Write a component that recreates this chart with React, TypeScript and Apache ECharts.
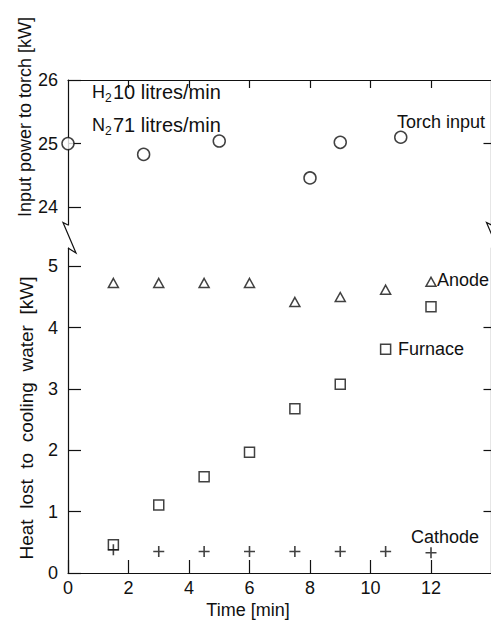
import React, { useEffect, useRef } from "react";
import * as echarts from "echarts";

// ---- data ----
const timeLabels = [0, 2, 4, 6, 8, 10, 12];
const timeTicksTop = [2, 4, 6, 8, 10, 12];
const powerTicks = [24, 25, 26];
const powerTicksRight = [25];
const heatTicks = [0, 1, 2, 3, 4, 5];
const heatTicksRight = [1, 2, 3, 4];

const torchTimes = [0, 2.5, 5, 8, 9, 11];
const torchPower = [25.0, 24.83, 25.04, 24.46, 25.02, 25.1];

const runTimes = [1.5, 3, 4.5, 6, 7.5, 9, 10.5, 12];
const anodeHeat = [4.73, 4.73, 4.73, 4.73, 4.42, 4.5, 4.62, 4.75];
const furnaceHeat = [0.46, 1.11, 1.57, 1.97, 2.68, 3.08, 3.65, 4.34];
const cathodeHeat = [0.38, 0.35, 0.35, 0.35, 0.35, 0.35, 0.35, 0.33];

const FONT = "Liberation Sans, Arial, Helvetica, sans-serif";
const INK = "#111";

const pair = (xs: number[], ys: number[]) => xs.map((x, i) => [x, ys[i]]);

export default function App() {
  const ref = useRef<HTMLDivElement>(null);

  useEffect(() => {
    document.body.style.margin = "0";
    const chart = echarts.init(ref.current!, null, { renderer: "svg" });

    const axisLine = { show: true, lineStyle: { color: INK, width: 1.2 } };
    const label = (vals: number[], margin: number) => ({
      show: true,
      customValues: vals,
      color: INK,
      fontSize: 18,
      fontFamily: FONT,
      margin,
    });
    const tick = (vals: number[], len: number) => ({
      show: true,
      inside: true,
      length: len,
      customValues: vals,
      lineStyle: { color: INK, width: 1.2 },
    });

    const markerStyle = { color: "#fff", borderColor: INK, borderWidth: 1.5 };
    const txt = (x: number, y: number, text: string, size: number, align = "left", rotation = 0) => ({
      type: "text",
      x,
      y,
      rotation,
      style: { text, font: `${size}px ${FONT}`, fill: INK, align, verticalAlign: "middle" },
    });

    chart.setOption({
      animation: false,
      backgroundColor: "#fff",
      grid: [
        { left: 68, top: 80, width: 423.5, height: 145, outerBoundsMode: "none" },
        { left: 68, top: 248, width: 423.5, height: 325, outerBoundsMode: "none" },
      ],
      xAxis: [
        {
          type: "value",
          gridIndex: 1,
          position: "bottom",
          min: 0,
          max: 14,
          interval: 2,
          axisLine,
          axisTick: tick(timeLabels, 13),
          axisLabel: label(timeLabels, 6),
          splitLine: { show: false },
        },
        {
          type: "value",
          gridIndex: 0,
          position: "top",
          min: 0,
          max: 14,
          interval: 2,
          axisLine,
          axisTick: tick(timeTicksTop, 8),
          axisLabel: { show: false },
          splitLine: { show: false },
        },
      ],
      yAxis: [
        {
          type: "value",
          gridIndex: 0,
          position: "left",
          min: 23.72,
          max: 26,
          axisLine,
          axisTick: tick(powerTicks, 13),
          axisLabel: label(powerTicks, 10),
          splitLine: { show: false },
        },
        {
          type: "value",
          gridIndex: 0,
          position: "right",
          min: 23.72,
          max: 26,
          axisLine,
          axisTick: tick(powerTicksRight, 8),
          axisLabel: { show: false },
          splitLine: { show: false },
        },
        {
          type: "value",
          gridIndex: 1,
          position: "left",
          min: 0,
          max: 5.3,
          axisLine,
          axisTick: tick(heatTicks, 13),
          axisLabel: label(heatTicks, 10),
          splitLine: { show: false },
        },
        {
          type: "value",
          gridIndex: 1,
          position: "right",
          min: 0,
          max: 5.3,
          axisLine,
          axisTick: tick(heatTicksRight, 8),
          axisLabel: { show: false },
          splitLine: { show: false },
        },
      ],
      series: [
        {
          name: "Torch input",
          type: "scatter",
          xAxisIndex: 1,
          yAxisIndex: 0,
          clip: false,
          symbol: "circle",
          symbolSize: 12,
          itemStyle: markerStyle,
          data: pair(torchTimes, torchPower),
        },
        {
          name: "Anode",
          type: "scatter",
          xAxisIndex: 0,
          yAxisIndex: 2,
          clip: false,
          symbol: "triangle",
          symbolSize: [10, 9],
          itemStyle: markerStyle,
          data: pair(runTimes, anodeHeat),
        },
        {
          name: "Furnace",
          type: "scatter",
          xAxisIndex: 0,
          yAxisIndex: 2,
          clip: false,
          symbol: "rect",
          symbolSize: 10,
          itemStyle: markerStyle,
          data: pair(runTimes, furnaceHeat),
        },
        {
          name: "Cathode",
          type: "scatter",
          xAxisIndex: 0,
          yAxisIndex: 2,
          clip: false,
          symbol: "path://M0,5L10,5M5,0L5,10",
          symbolSize: 11,
          itemStyle: { color: INK, borderColor: INK, borderWidth: 1.6 },
          data: pair(runTimes, cathodeHeat),
        },
      ],
      graphic: [
        // axis break marks
        {
          type: "polyline",
          shape: { points: [[68, 225], [63, 222.5], [76, 253], [68, 248]] },
          style: { stroke: INK, lineWidth: 1.2, fill: "none" },
          z: 100,
        },
        {
          type: "polyline",
          shape: { points: [[491.5, 225], [486.5, 222.5], [499.5, 253], [491.5, 248]] },
          style: { stroke: INK, lineWidth: 1.2, fill: "none" },
          z: 100,
        },
        // axis titles
        txt(25, 117, "Input power to torch [kW]", 18, "center", Math.PI / 2),
        txt(26, 418, "Heat  lost  to  cooling  water  [kW]", 19, "center", Math.PI / 2),
        txt(248, 610, "Time [min]", 18, "center"),
        // gas flow annotation
        txt(92, 92, "H", 18),
        txt(105, 98, "2", 12),
        txt(113, 92, "10 litres/min", 20),
        txt(92, 125, "N", 18),
        txt(105, 131, "2", 12),
        txt(113, 125, "71 litres/min", 20),
        // series labels
        txt(397, 122, "Torch input", 18),
        txt(437, 280, "Anode", 18),
        txt(398, 349, "Furnace", 18),
        txt(411, 537, "Cathode", 18),
      ],
    });

    return () => chart.dispose();
  }, []);

  return <div ref={ref} style={{ width: 491, height: 623 }} />;
}
